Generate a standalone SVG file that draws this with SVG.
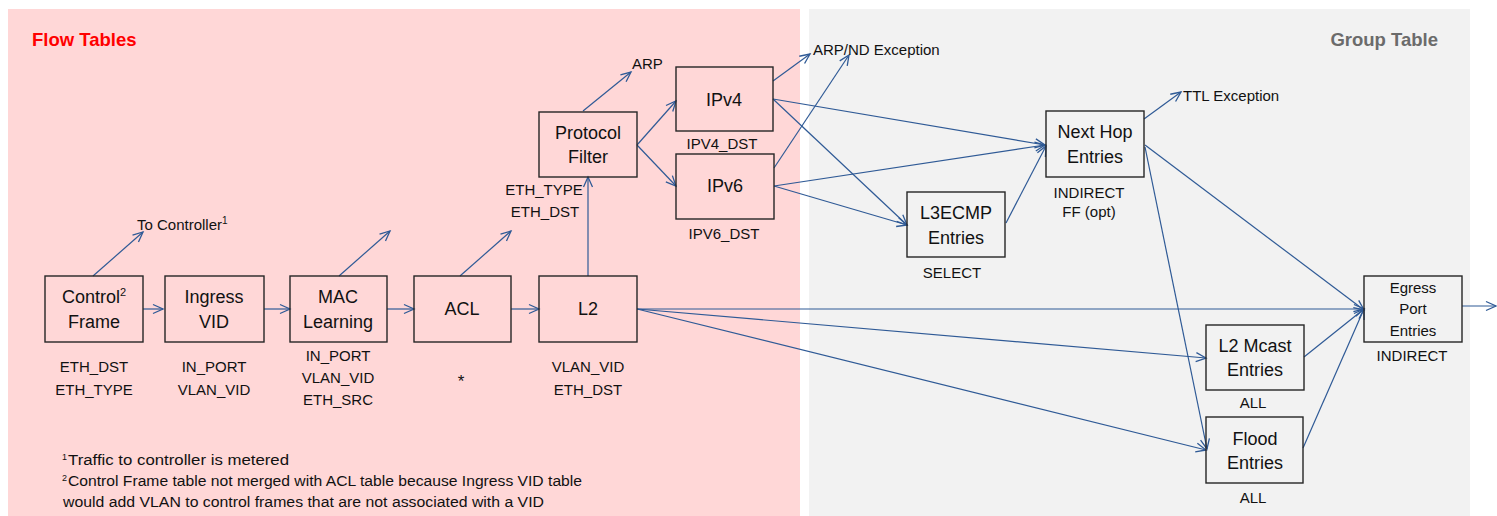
<svg xmlns="http://www.w3.org/2000/svg" width="1497" height="516" viewBox="0 0 1497 516">
<defs>
<style>
.box{fill:none;stroke:#262626;stroke-width:1.4}
.t{font-family:"Liberation Sans",Arial,sans-serif;font-size:18px;fill:#111;text-anchor:middle}
.s{font-family:"Liberation Sans",Arial,sans-serif;font-size:15px;fill:#111;text-anchor:middle}
.l{font-family:"Liberation Sans",Arial,sans-serif;font-size:15px;fill:#111}
.f{font-family:"Liberation Sans",Arial,sans-serif;font-size:14px;fill:#111}
.sup{font-family:"Liberation Sans",Arial,sans-serif;font-size:9px;fill:#111}
.title{font-family:"Liberation Sans",Arial,sans-serif;font-size:18.5px;font-weight:bold}
#conn line{stroke:#2F5A96;stroke-width:1.2;marker-end:url(#ah)}
</style>
<marker id="ah" viewBox="0 0 10 10" refX="10" refY="5" markerWidth="10" markerHeight="10" markerUnits="userSpaceOnUse" orient="auto" overflow="visible">
<path d="M0,0.5 L10,5 L0,9.5" fill="none" stroke="#2F5A96" stroke-width="1.3"/>
</marker>
</defs>
<rect x="0" y="0" width="1497" height="516" fill="#ffffff"/>
<rect x="8" y="9" width="792" height="507" fill="#FFD7D7"/>
<rect x="809" y="9" width="661" height="507" fill="#F2F2F2"/>
<text class="title" x="32" y="46" fill="#FF0000">Flow Tables</text>
<text class="title" x="1438" y="46" fill="#6B6B6B" text-anchor="end">Group Table</text>

<g id="conn">
<line x1="143" y1="309" x2="163" y2="309"/>
<line x1="264" y1="309" x2="290" y2="309"/>
<line x1="387" y1="309" x2="414" y2="309"/>
<line x1="511" y1="309" x2="539" y2="309"/>
<line x1="93" y1="276" x2="143" y2="232"/>
<line x1="339" y1="276" x2="390" y2="231"/>
<line x1="460" y1="276" x2="511" y2="231"/>
<line x1="588" y1="276" x2="588" y2="177"/>
<line x1="583" y1="111" x2="631" y2="72"/>
<line x1="637" y1="145" x2="676" y2="101"/>
<line x1="637" y1="145" x2="676" y2="186"/>
<line x1="773" y1="81" x2="810" y2="54"/>
<line x1="774" y1="168" x2="849" y2="55"/>
<line x1="773" y1="99" x2="1045" y2="145"/>
<line x1="773" y1="99" x2="907" y2="225"/>
<line x1="774" y1="186" x2="1045" y2="145"/>
<line x1="774" y1="186" x2="907" y2="225"/>
<line x1="1006" y1="223" x2="1046" y2="146"/>
<line x1="1144" y1="119" x2="1181" y2="92"/>
<line x1="1145" y1="145" x2="1364" y2="310"/>
<line x1="1145" y1="147" x2="1207" y2="449"/>
<line x1="637" y1="309" x2="1364" y2="309"/>
<line x1="637" y1="309" x2="1206" y2="358"/>
<line x1="637" y1="309" x2="1206" y2="450"/>
<line x1="1304" y1="357" x2="1364" y2="309"/>
<line x1="1303" y1="448" x2="1364" y2="309"/>
<line x1="1462" y1="306" x2="1496" y2="306"/>
</g>

<g id="control-frame">
<rect class="box" x="45" y="276" width="98" height="66"/>
<text class="t" x="94" y="303">Control<tspan style="font-size:11px" dy="-7">2</tspan></text>
<text class="t" x="94" y="328">Frame</text>
<text class="s" x="94" y="372">ETH_DST</text>
<text class="s" x="94" y="395">ETH_TYPE</text>
</g>
<g id="ingress-vid">
<rect class="box" x="165" y="276" width="99" height="66"/>
<text class="t" x="214" y="303">Ingress</text>
<text class="t" x="214" y="328">VID</text>
<text class="s" x="214" y="372">IN_PORT</text>
<text class="s" x="214" y="395">VLAN_VID</text>
</g>
<g id="mac-learning">
<rect class="box" x="290" y="276" width="97" height="66"/>
<text class="t" x="338" y="303">MAC</text>
<text class="t" x="338" y="328">Learning</text>
<text class="s" x="338" y="361">IN_PORT</text>
<text class="s" x="338" y="383">VLAN_VID</text>
<text class="s" x="338" y="405">ETH_SRC</text>
</g>
<g id="acl">
<rect class="box" x="414" y="276" width="97" height="66"/>
<text class="t" x="462" y="315">ACL</text>
<text class="s" x="461" y="387" style="font-size:17px">*</text>
</g>
<g id="l2">
<rect class="box" x="539" y="276" width="98" height="66"/>
<text class="t" x="588" y="315">L2</text>
<text class="s" x="588" y="372">VLAN_VID</text>
<text class="s" x="588" y="395">ETH_DST</text>
</g>
<g id="protocol-filter">
<rect class="box" x="539" y="112" width="98" height="65"/>
<text class="t" x="588" y="139">Protocol</text>
<text class="t" x="588" y="163">Filter</text>
<text class="s" x="544" y="195">ETH_TYPE</text>
<text class="s" x="545" y="217">ETH_DST</text>
</g>
<g id="ipv4">
<rect class="box" x="676" y="67" width="97" height="64"/>
<text class="t" x="724" y="106">IPv4</text>
<text class="s" x="722" y="149">IPV4_DST</text>
</g>
<g id="ipv6">
<rect class="box" x="676" y="154" width="98" height="65"/>
<text class="t" x="725" y="192">IPv6</text>
<text class="s" x="724" y="239">IPV6_DST</text>
</g>
<g id="labels">
<text class="l" x="632" y="69">ARP</text>
<text class="l" x="813" y="55">ARP/ND Exception</text>
<text class="l" x="137" y="230">To Controller<tspan style="font-size:10px" dy="-6">1</tspan></text>
<text class="l" x="1183" y="101">TTL Exception</text>
</g>
<g id="l3ecmp">
<rect class="box" x="907" y="192" width="98" height="65"/>
<text class="t" x="956" y="219">L3ECMP</text>
<text class="t" x="956" y="244">Entries</text>
<text class="s" x="952" y="278">SELECT</text>
</g>
<g id="next-hop">
<rect class="box" x="1046" y="111" width="98" height="66"/>
<text class="t" x="1095" y="138">Next Hop</text>
<text class="t" x="1095" y="163">Entries</text>
<text class="s" x="1089" y="198">INDIRECT</text>
<text class="s" x="1089" y="217">FF (opt)</text>
</g>
<g id="egress-port">
<rect class="box" x="1364" y="276" width="98" height="66"/>
<text class="s" x="1413" y="293">Egress</text>
<text class="s" x="1413" y="314">Port</text>
<text class="s" x="1413" y="336">Entries</text>
<text class="s" x="1412" y="361">INDIRECT</text>
</g>
<g id="l2-mcast">
<rect class="box" x="1206" y="325" width="98" height="65"/>
<text class="t" x="1255" y="352">L2 Mcast</text>
<text class="t" x="1255" y="376">Entries</text>
<text class="s" x="1253" y="408">ALL</text>
</g>
<g id="flood">
<rect class="box" x="1206" y="417" width="97" height="66"/>
<text class="t" x="1255" y="445">Flood</text>
<text class="t" x="1255" y="469">Entries</text>
<text class="s" x="1253" y="503">ALL</text>
</g>
<g id="footnotes">
<text class="sup" x="62" y="460">1</text>
<text class="f" x="68" y="465" textLength="221" lengthAdjust="spacingAndGlyphs">Traffic to controller is metered</text>
<text class="sup" x="62" y="481">2</text>
<text class="f" x="68" y="486" textLength="514" lengthAdjust="spacingAndGlyphs">Control Frame table not merged with ACL table because Ingress VID table</text>
<text class="f" x="63" y="507" textLength="481" lengthAdjust="spacingAndGlyphs">would add VLAN to control frames that are not associated with a VID</text>
</g>
</svg>
